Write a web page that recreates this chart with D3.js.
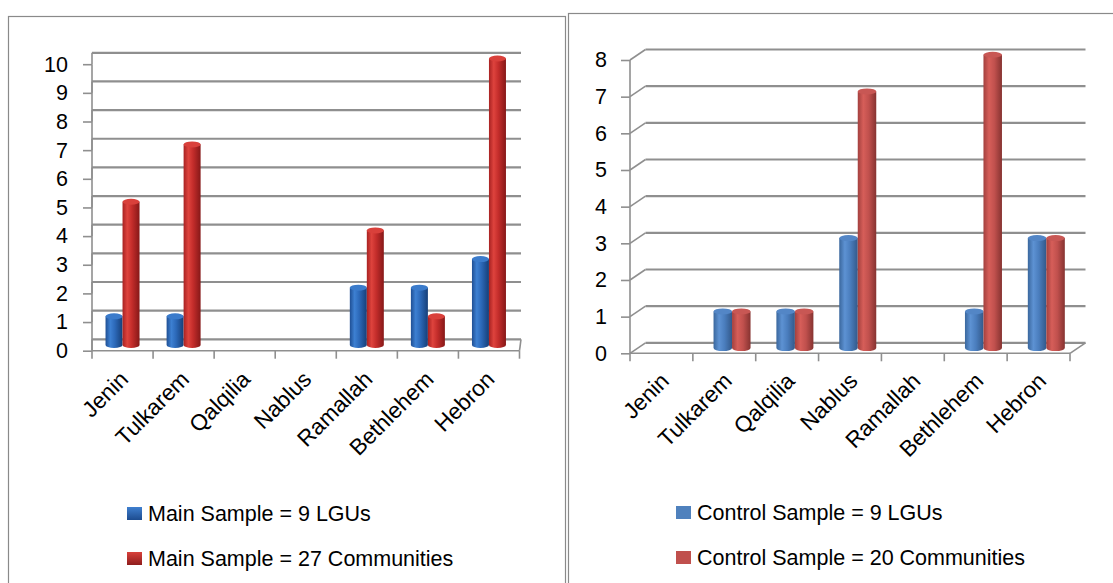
<!DOCTYPE html>
<html>
<head>
<meta charset="utf-8">
<script src="https://cdn.jsdelivr.net/npm/d3@7/dist/d3.min.js"></script>
<style>
  html, body { margin: 0; padding: 0; background: #fff; }
  svg text { font-family: "Liberation Sans", Arial, sans-serif; fill: #000; }
</style>
</head>
<body>
<svg id="chart" width="1113" height="583"></svg>
<script>
// District categories shared by both panels
const categories = ["Jenin", "Tulkarem", "Qalqilia", "Nablus", "Ramallah", "Bethlehem", "Hebron"];

// Main sample (left panel)
const mainLGUs        = [1, 1, 0, 0, 2, 2, 3];
const mainCommunities = [5, 7, 0, 0, 4, 1, 10];
const mainTicks       = [0, 1, 2, 3, 4, 5, 6, 7, 8, 9, 10];
const mainLegend      = ["Main Sample = 9 LGUs", "Main Sample = 27 Communities"];

// Control sample (right panel)
const controlLGUs        = [0, 1, 1, 3, 0, 1, 3];
const controlCommunities = [0, 1, 1, 7, 0, 8, 3];
const controlTicks       = [0, 1, 2, 3, 4, 5, 6, 7, 8];
const controlLegend      = ["Control Sample = 9 LGUs", "Control Sample = 20 Communities"];

const svg = d3.select("#chart");
const defs = svg.append("defs");

// Horizontal gradients that give each column its cylindrical shading
function cylGradient(id, stops) {
  const g = defs.append("linearGradient").attr("id", id)
    .attr("x1", 0).attr("x2", 1).attr("y1", 0).attr("y2", 0);
  stops.forEach(([o, c]) => g.append("stop").attr("offset", o).attr("stop-color", c));
}
cylGradient("mainBlue",  [[0, "#1f4f94"], [0.28, "#3d80d2"], [0.55, "#2c69b9"], [1, "#163f78"]]);
cylGradient("mainRed",   [[0, "#a82222"], [0.28, "#de433d"], [0.55, "#c42d2b"], [1, "#861818"]]);
cylGradient("ctrlBlue",  [[0, "#3a679d"], [0.3, "#5d92d3"], [0.6, "#4a7dbd"], [1, "#33598a"]]);
cylGradient("ctrlRed",   [[0, "#a3403e"], [0.3, "#d65e59"], [0.6, "#c0504d"], [1, "#863331"]]);
// Legend swatch gradients (vertical)
function vGradient(id, c1, c2) {
  const g = defs.append("linearGradient").attr("id", id)
    .attr("x1", 0).attr("x2", 0).attr("y1", 0).attr("y2", 1);
  g.append("stop").attr("offset", 0).attr("stop-color", c1);
  g.append("stop").attr("offset", 1).attr("stop-color", c2);
}
vGradient("legMainBlue", "#3f7fcf", "#1d4c8f");
vGradient("legMainRed", "#d8413b", "#8f1d1d");

// Panel frames
svg.append("rect").attr("x", 8.5).attr("y", 16.5).attr("width", 557).attr("height", 600)
  .attr("fill", "none").attr("stroke", "#8a8a8a").attr("stroke-width", 1.2);
svg.append("rect").attr("x", 568.5).attr("y", 13.5).attr("width", 600).attr("height", 600)
  .attr("fill", "none").attr("stroke", "#8a8a8a").attr("stroke-width", 1.2);

function panel(cfg) {
  const g = svg.append("g");
  const x = d3.scaleBand().domain(categories).range([cfg.x0, cfg.x1]).paddingInner(0).paddingOuter(0);
  const y = d3.scaleLinear().domain([0, d3.max(cfg.ticks)]).range([cfg.y0, cfg.yTop]);
  const series = ["lgu", "com"];
  const sub = d3.scaleBand().domain(series).range([-cfg.barW, cfg.barW]);
  const dx = cfg.dx, dy = cfg.dy;
  const gridColor = "#8f8f8f";

  // back-wall gridlines with their side-wall connectors
  cfg.ticks.forEach(v => {
    g.append("line")
      .attr("x1", cfg.x0 + dx).attr("x2", cfg.x1 + dx + cfg.gridExtra)
      .attr("y1", y(v) + dy).attr("y2", y(v) + dy)
      .attr("stroke", gridColor).attr("stroke-width", 2.2);
    g.append("line")
      .attr("x1", cfg.x0).attr("x2", cfg.x0 + dx)
      .attr("y1", y(v)).attr("y2", y(v) + dy)
      .attr("stroke", gridColor).attr("stroke-width", 1.6);
  });

  // floor front edge and right edge
  g.append("line").attr("x1", cfg.x0).attr("x2", cfg.x1).attr("y1", cfg.y0).attr("y2", cfg.y0)
    .attr("stroke", gridColor).attr("stroke-width", 1.6);
  g.append("line").attr("x1", cfg.x1).attr("x2", cfg.x1 + dx + cfg.gridExtra)
    .attr("y1", cfg.y0).attr("y2", cfg.y0 + dy)
    .attr("stroke", gridColor).attr("stroke-width", 1.6);

  // value axis
  const yAxis = d3.axisLeft(y).tickValues(cfg.ticks).tickSize(cfg.tickLen).tickPadding(cfg.tickPad)
    .tickFormat(d3.format("d"));
  const ya = g.append("g").attr("transform", `translate(${cfg.x0},0)`).call(yAxis);
  ya.select(".domain").attr("stroke", gridColor).attr("stroke-width", 1.6)
    .attr("d", `M0,${y(d3.max(cfg.ticks))}V${cfg.y0}`);
  ya.selectAll(".tick line").attr("stroke", gridColor).attr("stroke-width", 1.6);
  ya.selectAll(".tick text").attr("font-size", cfg.fontSize).attr("font-family", "Liberation Sans, Arial, sans-serif")
    .attr("fill", "#000");

  // category boundary ticks
  const bounds = categories.map(c => x(c)).concat([cfg.x1]);
  g.selectAll(null).data(bounds).join("line")
    .attr("x1", d => d).attr("x2", d => d)
    .attr("y1", cfg.y0).attr("y2", cfg.y0 + 8)
    .attr("stroke", gridColor).attr("stroke-width", 1.6);

  // rotated category labels
  g.selectAll(null).data(categories).join("text")
    .attr("transform", d => `translate(${x(d) + x.bandwidth() / 2 + cfg.labelDx},${cfg.y0 + cfg.labelDy}) rotate(-45)`)
    .attr("text-anchor", "end")
    .attr("font-size", cfg.catFont)
    .text(d => d);

  // cylinders
  const ry = 3;
  const baseY = cfg.y0 + dy / 2;
  const rows = [
    { key: "lgu", values: cfg.lgu, fill: cfg.blueFill, top: cfg.blueTop },
    { key: "com", values: cfg.com, fill: cfg.redFill, top: cfg.redTop }
  ];
  categories.forEach((c, i) => {
    const cxCat = x(c) + x.bandwidth() / 2 + dx / 2;
    rows.forEach(r => {
      const v = r.values[i];
      if (!v) return;
      const w = sub.bandwidth();
      const left = cxCat + sub(r.key);
      const topY = y(v) + dy / 2;
      const rx = w / 2;
      g.append("path")
        .attr("d", `M${left},${topY}L${left},${baseY}A${rx},${ry} 0 0 0 ${left + w},${baseY}L${left + w},${topY}Z`)
        .attr("fill", r.fill);
      g.append("ellipse")
        .attr("cx", left + rx).attr("cy", topY).attr("rx", rx).attr("ry", ry)
        .attr("fill", r.top);
    });
  });

  // legend
  cfg.legend.forEach((label, i) => {
    const ly = cfg.legendY + i * 45;
    g.append("rect").attr("x", cfg.legendX).attr("y", ly - 6).attr("width", 15).attr("height", 13)
      .attr("fill", i === 0 ? cfg.legBlue : cfg.legRed);
    g.append("text").attr("x", cfg.legendX + 21).attr("y", ly + 8)
      .attr("font-size", 21.5).text(label);
  });
}

panel({
  x0: 92, x1: 519.5, y0: 350.7, yTop: 64.2, dx: 0, dy: -11.4, gridExtra: 1.5,
  ticks: mainTicks, lgu: mainLGUs, com: mainCommunities,
  barW: 17, tickLen: 9, tickPad: 15, fontSize: 21.5, catFont: 22.5,
  labelDx: 7, labelDy: 30,
  blueFill: "url(#mainBlue)", blueTop: "#3b7bcb", redFill: "url(#mainRed)", redTop: "#d9403b",
  legend: mainLegend, legendX: 127, legendY: 513,
  legBlue: "url(#legMainBlue)", legRed: "url(#legMainRed)"
});

panel({
  x0: 630, x1: 1070, y0: 353.3, yTop: 60, dx: 15.5, dy: -10.5, gridExtra: 0,
  ticks: controlTicks, lgu: controlLGUs, com: controlCommunities,
  barW: 18.5, tickLen: 9, tickPad: 14, fontSize: 21.5, catFont: 22.5,
  labelDx: 9, labelDy: 29,
  blueFill: "url(#ctrlBlue)", blueTop: "#5386c6", redFill: "url(#ctrlRed)", redTop: "#c85754",
  legend: controlLegend, legendX: 676, legendY: 512,
  legBlue: "#4f81bd", legRed: "#c0504d"
});
</script>
</body>
</html>
